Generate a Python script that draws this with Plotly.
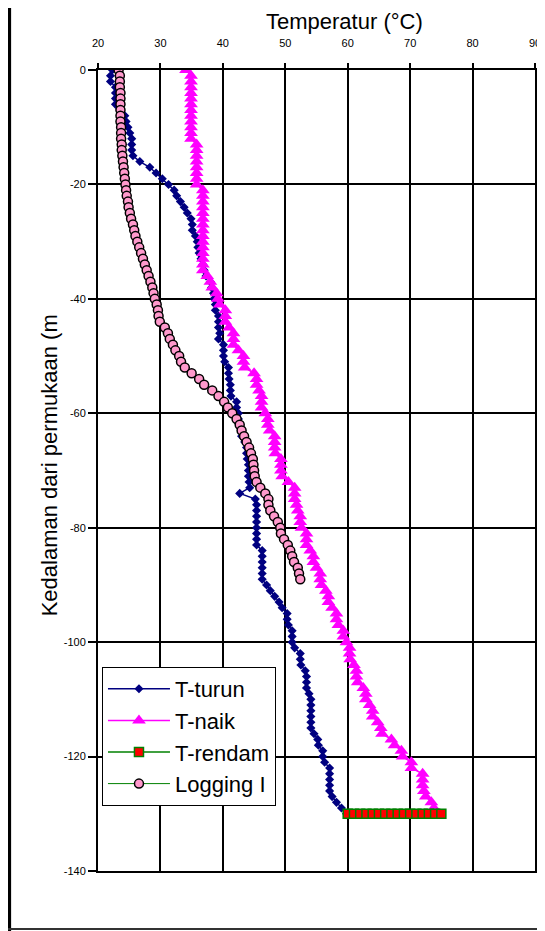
import plotly.graph_objects as go

# ---------------- data ----------------
turun_depth = [-d for d in range(0, 131)]
turun_temp = [
    22.3, 22.0, 22.0, 22.8, 22.8, 22.8, 22.8, 23.5, 24.3, 24.5,
    24.8, 25.1, 25.4, 25.4, 25.4, 25.6, 26.7, 28.3, 29.3, 30.3,
    31.3, 32.2, 32.6, 33.2, 33.8, 34.3, 34.9, 35.1, 35.1, 35.6,
    35.9, 36.0, 36.2, 36.5, 36.8, 37.0, 37.3, 38.0, 38.2, 38.5,
    38.6, 38.8, 38.8, 39.3, 39.3, 39.3, 39.5, 39.3, 40.1, 40.1,
    40.1, 40.3, 40.9, 40.9, 41.0, 41.2, 41.2, 41.3, 42.2, 42.2,
    42.5, 42.5, 42.6, 43.0, 43.0, 43.5, 43.8, 43.8, 43.9, 44.1,
    44.1, 44.1, 44.2, 44.3, 42.7, 45.2, 45.4, 45.4, 45.4, 45.4,
    45.4, 45.4, 45.4, 45.4, 46.3, 46.3, 46.3, 46.3, 46.3, 46.3,
    47.0, 47.6, 48.3, 49.0, 49.5, 50.3, 50.3, 50.5, 51.1, 51.1,
    51.1, 51.5, 52.4, 52.4, 52.5, 53.2, 53.4, 53.4, 53.4, 53.8,
    54.1, 54.1, 54.1, 54.1, 54.1, 54.1, 54.6, 55.2, 55.3, 56.0,
    56.0, 56.3, 57.1, 57.1, 57.1, 57.1, 57.1, 57.5, 58.2, 59.0,
    59.8,
]

naik_depth = [-d for d in range(0, 130)]
naik_temp = [
    34.1, 34.9, 34.9, 34.9, 34.9, 34.9, 34.9, 34.9, 34.9, 34.9,
    34.9, 34.9, 34.9, 35.8, 35.8, 35.8, 35.8, 35.8, 35.8, 35.8,
    35.8, 36.8, 36.8, 36.8, 36.8, 36.8, 36.8, 36.8, 36.8, 36.8,
    36.8, 36.8, 36.8, 36.8, 36.8, 36.8, 37.5, 38.0, 38.3, 39.0,
    39.2, 39.5, 40.4, 40.4, 40.4, 41.0, 41.7, 41.7, 41.7, 42.5,
    43.3, 43.3, 43.5, 45.0, 45.4, 45.4, 45.8, 46.2, 46.2, 46.2,
    46.8, 47.2, 47.2, 47.5, 48.3, 48.3, 48.3, 48.4, 49.3, 49.3,
    49.3, 49.5, 50.5, 51.5, 51.5, 51.5, 51.8, 52.0, 52.4, 52.4,
    52.6, 53.4, 53.4, 53.4, 54.0, 54.5, 54.5, 55.0, 55.6, 55.6,
    55.8, 56.5, 56.9, 56.9, 57.5, 58.2, 58.2, 58.5, 59.3, 59.3,
    59.8, 60.3, 60.3, 60.4, 61.0, 61.4, 61.4, 61.6, 62.5, 62.9,
    62.9, 63.5, 64.0, 64.0, 64.8, 65.3, 65.5, 67.0, 67.5, 68.6,
    68.8, 70.2, 70.2, 72.0, 72.0, 72.0, 72.2, 72.5, 73.4, 73.8,
]

rendam_temp = [60, 61, 62, 63, 64, 65, 66, 67, 68, 69, 70, 71, 72, 73, 74, 75]
rendam_depth = [-130] * len(rendam_temp)

logging_depth = [-d for d in range(0, 90)]
logging_temp = [
    23.3, 23.5, 23.5, 23.5, 23.6, 23.6, 23.6, 23.6, 23.6, 23.6,
    23.7, 23.7, 23.7, 23.8, 23.8, 23.9, 24.0, 24.1, 24.2, 24.3,
    24.4, 24.5, 24.6, 24.8, 24.9, 25.1, 25.3, 25.6, 25.8, 26.0,
    26.3, 26.6, 26.9, 27.2, 27.5, 27.8, 28.1, 28.4, 28.7, 28.9,
    29.1, 29.4, 29.6, 29.7, 29.9, 30.7, 31.2, 31.5, 32.0, 32.4,
    33.0, 33.3, 33.9, 35.0, 36.2, 37.0, 38.3, 39.3, 40.2, 40.8,
    41.5, 42.2, 42.7, 43.0, 43.4, 43.8, 44.2, 44.5, 44.8, 44.9,
    45.0, 45.1, 45.4, 46.0, 46.8, 47.3, 47.3, 47.6, 48.2, 48.8,
    49.2, 49.3, 49.8, 50.4, 50.8, 51.1, 51.4, 52.0, 52.2, 52.4,
]

x_ticks = [20, 30, 40, 50, 60, 70, 80, 90]
y_ticks = [0, -20, -40, -60, -80, -100, -120, -140]
y_ticktext = ["0", "-20", "-40", "-60", "-80", "-100", "-120", "-140"]

FONT = "Liberation Sans, Arial, sans-serif"

fig = go.Figure()
fig.add_trace(go.Scatter(
    x=turun_temp, y=turun_depth, name="T-turun", mode="lines+markers",
    line=dict(color="#000080", width=1.5),
    marker=dict(symbol="diamond", size=7, color="#000080"),
))
fig.add_trace(go.Scatter(
    x=naik_temp, y=naik_depth, name="T-naik", mode="lines+markers",
    line=dict(color="#FF00FF", width=1.5),
    marker=dict(symbol="triangle-up", size=12, color="#FF00FF"),
))
fig.add_trace(go.Scatter(
    x=rendam_temp, y=rendam_depth, name="T-rendam", mode="lines+markers",
    line=dict(color="#008000", width=1.5),
    marker=dict(symbol="square", size=9, color="#FF0000",
                line=dict(color="#008000", width=1.5)),
))
fig.add_trace(go.Scatter(
    x=logging_temp, y=logging_depth, name="Logging I", mode="lines+markers",
    line=dict(color="#008000", width=1),
    marker=dict(symbol="circle", size=9, color="#FF99CC",
                line=dict(color="#000000", width=1.5)),
))

# page body has an 8px margin, so figure coords = screen coords - 8
OFF = 8
W, H = 545, 931
L, R, T, B = 90, 15, 62, 68
pw, ph = W - L - R, H - T - B


def px_x(screen_x):
    return (screen_x - OFF - L) / pw


def px_y(screen_y):
    return (H - B - (screen_y - OFF)) / ph


fig.update_layout(
    width=W, height=H,
    margin=dict(l=L, r=R, t=T, b=B),
    paper_bgcolor="white", plot_bgcolor="white",
    font=dict(family=FONT, color="black"),
    showlegend=True,
    legend=dict(
        x=px_x(102), y=px_y(667), xanchor="left", yanchor="top",
        bgcolor="white", bordercolor="black", borderwidth=1,
        font=dict(size=22, family=FONT, color="black"),
        tracegroupgap=0, itemwidth=62,
    ),
    xaxis=dict(
        side="top", range=[20, 90], tickvals=x_ticks,
        tickfont=dict(size=11), ticks="outside", ticklen=5, tickwidth=2,
        ticklabelstandoff=12,
        tickcolor="black", showgrid=True, gridcolor="black", gridwidth=2,
        showline=True, linecolor="black", linewidth=2, mirror=True,
        zeroline=False,
    ),
    yaxis=dict(
        range=[-140, 0], tickvals=y_ticks, ticktext=y_ticktext,
        tickfont=dict(size=11), ticks="outside", ticklen=8, tickwidth=2,
        tickcolor="black", showgrid=True, gridcolor="black", gridwidth=2,
        showline=True, linecolor="black", linewidth=2, mirror=True,
        zeroline=False,
    ),
    annotations=[
        dict(text="Temperatur (°C)", xref="paper", yref="paper",
             x=px_x(346), y=px_y(21), xanchor="center", yanchor="middle",
             showarrow=False, font=dict(size=22, family=FONT)),
        dict(text="Kedalaman dari permukaan (m", xref="paper", yref="paper",
             x=px_x(49), y=px_y(465), xanchor="center", yanchor="middle",
             textangle=-90, showarrow=False, font=dict(size=22, family=FONT)),
    ],
    shapes=[
        dict(type="line", xref="paper", yref="paper",
             x0=px_x(8.5), x1=px_x(8.5), y0=px_y(0), y1=px_y(931),
             line=dict(color="black", width=4)),
        dict(type="line", xref="paper", yref="paper",
             x0=px_x(7), x1=px_x(545), y0=px_y(929), y1=px_y(929),
             line=dict(color="#333333", width=2)),
    ],
)

fig.write_html("out.html")
